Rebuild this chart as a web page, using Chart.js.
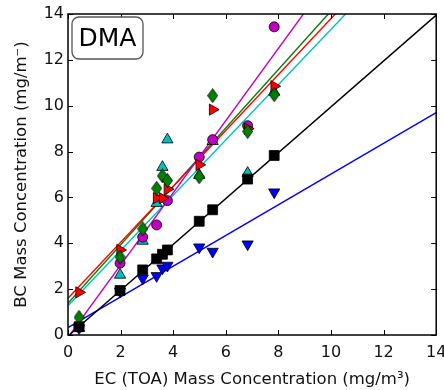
<!DOCTYPE html>
<html>
<head>
<meta charset="utf-8">
<script src="https://cdn.jsdelivr.net/npm/chart.js@4"></script>
<style>
  html, body { margin: 0; padding: 0; background: #fff; }
  #wrap { width: 444px; height: 390px; }
</style>
</head>
<body>
<div id="wrap"><canvas id="c" width="444" height="390"></canvas></div>
<script>
// EC (TOA) values shared by all series
const ec = [0.42, 1.98, 2.84, 3.37, 3.59, 3.78, 4.99, 5.5, 6.83, 7.84];
const bcBlack = [0.36, 1.94, 2.84, 3.32, 3.52, 3.71, 4.96, 5.46, 6.8, 7.83];
const bcBlue = [0.3, 1.9, 2.47, 2.58, 2.91, 3.03, 3.83, 3.64, 3.96, 6.23];
const bcMagenta = [0.35, 3.13, 4.27, 4.8, null, 5.86, 7.76, 8.52, 9.13, 13.44];
const bcRed = [1.86, 3.71, null, 5.97, 5.97, 6.36, 7.42, 9.83, 9.0, 10.85];
const bcGreen = [0.77, 3.4, 4.63, 6.4, 6.94, 6.74, 6.9, 10.44, 8.88, 10.48];
const bcCyan = [0.3, 2.62, 4.1, 5.75, 7.32, 8.52, 6.97, 8.45, 7.06, 10.6];

// linear fits: black, blue, magenta, red, green, cyan
const fitColors = ['#000000', '#0000ff', '#bf00bf', '#ff0000', '#008000', '#00bfbf'];
const fitSlopes = [1.0, 0.67, 1.575, 1.22, 1.275, 1.205];
const fitIntercepts = [-0.05, 0.32, -0.1, 1.6, 1.38, 1.28];
const fitRange = [0, 14];

const axisTicks = [0, 2, 4, 6, 8, 10, 12, 14];
const font = 'DejaVu Sans';

function pts(ys) {
  return ec.map((x, i) => ({ x: x, y: ys[i] })).filter((p) => p.y !== null);
}

// thin diamond marker like matplotlib 'd'
function thinDiamond(fill) {
  const cv = document.createElement('canvas');
  cv.width = 11; cv.height = 15;
  const g = cv.getContext('2d');
  g.beginPath();
  g.moveTo(5.5, 0.5); g.lineTo(10.5, 7.5); g.lineTo(5.5, 14.5); g.lineTo(0.5, 7.5);
  g.closePath();
  g.fillStyle = fill; g.fill();
  g.lineWidth = 0.8; g.strokeStyle = '#000'; g.stroke();
  return cv;
}

const markers = [
  { ys: bcBlue, color: '#0000ff', style: 'triangle', r: 6.5, rot: 180, order: 7 },
  { ys: bcCyan, color: '#00bfbf', style: 'triangle', r: 6.5, rot: 0, order: 6 },
  { ys: bcMagenta, color: '#bf00bf', style: 'circle', r: 5, rot: 0, order: 5 },
  { ys: bcRed, color: '#ff0000', style: 'triangle', r: 6.5, rot: 90, order: 4 },
  { ys: bcGreen, color: '#008000', style: thinDiamond('#008000'), r: 7, rot: 0, order: 3 },
  { ys: bcBlack, color: '#000000', style: 'rect', r: 7, rot: 0, order: 2 }
];

const datasets = [];
fitSlopes.forEach((b, i) => {
  datasets.push({
    data: fitRange.map((x) => ({ x: x, y: fitIntercepts[i] + b * x })),
    showLine: true,
    borderColor: fitColors[i],
    borderWidth: 1.4,
    pointRadius: 0,
    order: 10
  });
});
markers.forEach((m) => {
  datasets.push({
    data: pts(m.ys),
    pointStyle: m.style,
    pointRadius: m.r,
    pointRotation: m.rot,
    backgroundColor: m.color,
    borderColor: '#000',
    borderWidth: 0.8,
    order: m.order
  });
});

const frame = {
  id: 'frame',
  afterDatasetsDraw(chart) {
    const { ctx, chartArea: a, scales } = chart;
    ctx.save();
    ctx.strokeStyle = '#000';
    ctx.lineWidth = 1;
    axisTicks.forEach((v) => {
      const px = Math.round(scales.x.getPixelForValue(v)) + 0.5;
      const py = Math.round(scales.y.getPixelForValue(v)) + 0.5;
      ctx.beginPath();
      ctx.moveTo(px, a.bottom); ctx.lineTo(px, a.bottom - 5);
      ctx.moveTo(px, a.top); ctx.lineTo(px, a.top + 5);
      ctx.moveTo(a.left, py); ctx.lineTo(a.left + 5, py);
      ctx.moveTo(a.right, py); ctx.lineTo(a.right - 5, py);
      ctx.stroke();
    });
    ctx.lineWidth = 1.5;
    ctx.strokeRect(a.left, a.top, a.right - a.left, a.bottom - a.top);

    // label box
    ctx.lineWidth = 1.3;
    ctx.strokeStyle = '#555';
    ctx.fillStyle = '#fff';
    ctx.beginPath();
    ctx.roundRect(72, 17, 71, 42, 7);
    ctx.fill();
    ctx.stroke();
    ctx.fillStyle = '#000';
    ctx.font = '25px ' + font;
    ctx.textAlign = 'center';
    ctx.textBaseline = 'middle';
    ctx.fillText('DMA', 107.5, 39);
    ctx.restore();
  }
};

const axis = (title, pad, titlePad) => ({
  type: 'linear',
  min: 0,
  max: 14,
  grid: { display: false, drawTicks: false },
  border: { display: false },
  ticks: { stepSize: 2, color: '#111', font: { family: font, size: 16 }, padding: pad },
  title: { display: true, text: title, color: '#111', font: { family: font, size: 16.5 }, padding: titlePad }
});

const xAxis = axis('EC (TOA) Mass Concentration (mg/m³)', 8, 0);
xAxis.afterFit = (s) => { s.height = 55; s.paddingLeft = 0; s.paddingRight = 0; };
const yAxis = axis('BC Mass Concentration (mg/m⁻)', 4, { top: 12, bottom: 0 });
yAxis.afterFit = (s) => { s.width = 68; s.paddingTop = 0; s.paddingBottom = 0; };

new Chart(document.getElementById('c'), {
  type: 'scatter',
  data: { datasets: datasets },
  options: {
    responsive: false,
    animation: false,
    layout: { padding: { top: 14, right: 7, left: 0, bottom: 0 } },
    plugins: { legend: { display: false }, tooltip: { enabled: false } },
    scales: { x: xAxis, y: yAxis }
  },
  plugins: [frame]
});
</script>
</body>
</html>
